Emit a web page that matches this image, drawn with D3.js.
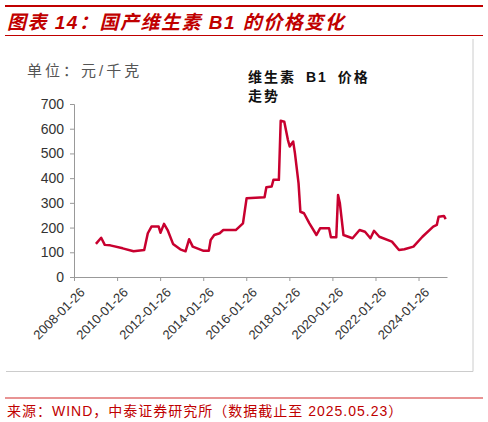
<!DOCTYPE html>
<html>
<head>
<meta charset="utf-8">
<script src="https://cdn.jsdelivr.net/npm/d3@7"></script>
<style>
  body { margin: 0; background: #fff; }
  text { font-family: "Liberation Sans", Arial, "Noto Sans CJK SC", sans-serif; }
</style>
</head>
<body>
<svg id="mainSvg" width="488" height="422"></svg>
<script>
// price of domestic vitamin B1, yuan/kg
var dates = ["2009-02","2009-05","2009-07","2009-10","2010-05","2010-11","2011-05","2011-07","2011-09",
  "2012-01","2012-02","2012-04","2012-06","2012-09","2013-01","2013-04","2013-06","2013-08","2014-02",
  "2014-05","2014-06","2014-08","2014-11","2015-01","2015-08","2015-12","2016-02","2016-12","2017-01",
  "2017-04","2017-05","2017-08","2017-09","2017-11","2018-01","2018-02","2018-04","2018-05","2018-07",
  "2018-08","2018-10","2019-01","2019-05","2019-07","2019-12","2020-01","2020-04","2020-05","2020-06",
  "2020-08","2021-01","2021-05","2021-08","2021-11","2022-01","2022-04","2022-11","2023-03","2023-06",
  "2023-11","2024-04","2024-10","2024-12","2025-01","2025-04","2025-05"];
var prices = [134,159,130,128,116,104,109,177,204,
  204,179,215,190,134,112,104,153,123,106,
  106,150,170,177,190,190,217,319,323,363,
  366,393,393,632,628,555,528,548,500,379,
  264,258,217,170,197,197,161,161,332,298,
  170,157,190,183,157,187,163,143,109,112,
  123,163,204,211,244,247,234];
var yTicks = [0,100,200,300,400,500,600,700];
var xTickYears = [2008,2010,2012,2014,2016,2018,2020,2022,2024];

var parse = d3.timeParse("%Y-%m");
var data = dates.map(function(d, i) { return {date: parse(d), price: prices[i]}; });

var svg = d3.select("#mainSvg");
var red = "#C00000";

// header
svg.append("line").attr("x1", 5).attr("x2", 483).attr("y1", 6).attr("y2", 6)
  .attr("stroke", red).attr("stroke-width", 2);
svg.append("text").attr("x", 7).attr("y", 29)
  .attr("fill", red).attr("font-size", 19).attr("font-weight", "bold").attr("font-style", "italic")
  .attr("letter-spacing", 1.5)
  .text("图表 14：国产维生素 B1 的价格变化");
svg.append("line").attr("x1", 5).attr("x2", 483).attr("y1", 35.5).attr("y2", 35.5)
  .attr("stroke", red).attr("stroke-width", 1);

// frame
svg.append("path").attr("d", "M473,39V371.5H6").attr("fill", "none")
  .attr("stroke", "#ccc").attr("stroke-width", 1);

var x = d3.scaleTime()
  .domain([new Date(2008, 0, 26), new Date(2025, 4, 23)])
  .range([74, 447]);
var y = d3.scaleLinear().domain([0, 700]).range([277, 104]);

var g = svg.append("g");

var yAxis = g.append("g").attr("transform", "translate(74,0)")
  .call(d3.axisLeft(y).tickValues(yTicks).tickSize(4).tickPadding(6));
yAxis.select(".domain").attr("stroke", "#999");
yAxis.selectAll(".tick line").attr("stroke", "#999");
yAxis.selectAll("text").attr("font-size", 14).attr("fill", "#333");

var xAxis = g.append("g").attr("transform", "translate(0,277)")
  .call(d3.axisBottom(x)
    .tickValues(xTickYears.map(function(yr) { return new Date(yr, 0, 26); }))
    .tickFormat(d3.timeFormat("%Y-%m-%d")).tickSize(4).tickSizeOuter(0));
xAxis.select(".domain").attr("stroke", "#999");
xAxis.selectAll(".tick line").attr("stroke", "#999");
xAxis.selectAll("text").attr("font-size", 13).attr("fill", "#333")
  .attr("text-anchor", "end").attr("dy", "0.35em")
  .attr("transform", "translate(3,8) rotate(-45)");

var line = d3.line()
  .x(function(d) { return x(d.date); })
  .y(function(d) { return y(d.price); });
g.append("path").datum(data).attr("d", line)
  .attr("fill", "none").attr("stroke", "#C8002F").attr("stroke-width", 2.5)
  .attr("stroke-linejoin", "round");

// labels
svg.append("text").attr("x", 27).attr("y", 76).attr("font-size", 15).attr("fill", "#555")
  .attr("letter-spacing", 3).text("单位：元/千克");
svg.append("text").attr("x", 248).attr("y", 82).attr("font-size", 14).attr("font-weight", "bold")
  .attr("fill", "#111").attr("letter-spacing", 2).attr("word-spacing", 4).text("维生素 B1 价格");
svg.append("text").attr("x", 248).attr("y", 101).attr("font-size", 14).attr("font-weight", "bold")
  .attr("fill", "#111").attr("letter-spacing", 2).text("走势");

// footer
svg.append("line").attr("x1", 5).attr("x2", 483).attr("y1", 398).attr("y2", 398)
  .attr("stroke", "#e07070").attr("stroke-width", 1.5);
svg.append("text").attr("x", 7).attr("y", 416).attr("font-size", 14).attr("fill", red)
  .attr("letter-spacing", 1).text("来源：WIND，中泰证券研究所（数据截止至 2025.05.23）");
</script>
</body>
</html>
